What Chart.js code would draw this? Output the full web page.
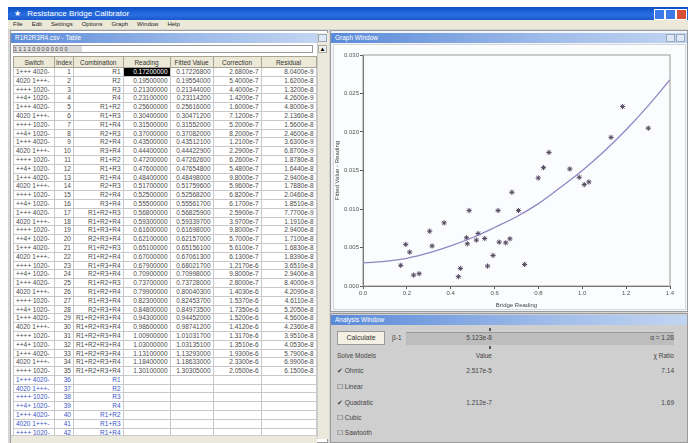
<!DOCTYPE html>
<html>
<head>
<meta charset="utf-8">
<script src="https://cdn.jsdelivr.net/npm/chart.js@4"></script>
<style>
  body { margin: 0; width: 688px; height: 443px; overflow: hidden; background: #fff; font-family: "Liberation Sans", Arial, sans-serif; }
  .abs { position: absolute; }
  .title { background: linear-gradient(#0b4fc4, #2a6fe2 60%, #1a58cc); color: #fff; font-size: 8px; line-height: 13px; }
  .child-title { background: linear-gradient(to right, #5a8ad8, #9ebbe9 60%, #c2d5f2); color: #fff; font-size: 6.5px; line-height: 10px; padding-left: 4px; box-sizing: border-box; }
  .menu span { margin-right: 9px; }
  table.grid { border-collapse: collapse; table-layout: fixed; font-size: 6.5px; color: #4a4a4a; }
  table.grid td { border: 1px solid #c8c8c8; height: 7.8px; padding: 0 2px; white-space: nowrap; overflow: hidden; text-align: right; line-height: 7.8px; }
  table.grid th { background: #ece9d8; border: 1px solid #a8a494; font-weight: normal; font-size: 6.5px; height: 8px; color: #333; }
  table.grid tr.blue td { color: #3a55c8; }
  .lbl { font-size: 6.5px; color: #444; }
</style>
</head>
<body>
<!-- main frame -->
<div class="abs" style="left:8px;top:7px;width:680px;height:436px;background:#d6d6d6;"></div>
<div class="abs title" style="left:8px;top:7px;width:680px;height:13px;">
  <span style="margin-left:6px;">&#9733;</span>
  <span style="margin-left:4px;">Resistance Bridge Calibrator</span>
</div>
<div class="abs" style="left:654px;top:9px;width:9px;height:9px;background:#3b7ae8;border:1px solid #fff;"></div>
<div class="abs" style="left:665px;top:9px;width:9px;height:9px;background:#3b7ae8;border:1px solid #fff;"></div>
<div class="abs" style="left:676px;top:9px;width:9px;height:9px;background:#d9503a;border:1px solid #fff;"></div>
<div class="abs menu" style="left:8px;top:20px;width:680px;height:9px;background:#ece9d8;font-size:6px;line-height:9px;padding-left:5px;box-sizing:border-box;color:#222;">
  <span>File</span><span>Edit</span><span>Settings</span><span>Options</span><span>Graph</span><span>Window</span><span>Help</span>
</div>

<!-- table window -->
<div class="abs" style="left:10px;top:30px;width:318px;height:413px;background:#fff;border:1px solid #9a9a9a;box-sizing:border-box;"></div>
<div class="abs child-title" style="left:11px;top:33px;width:306px;height:10px;">R1R2R3R4.csv - Table</div>
<div class="abs" style="left:317px;top:33px;width:11px;height:406px;background:#ebe8dc;border-left:1px solid #ccc;"></div>
<div class="abs" style="left:318px;top:34px;width:9px;height:8px;background:#dfe8f7;border:1px solid #9ab;box-sizing:border-box;"></div>
<div class="abs" style="left:318px;top:45px;width:9px;height:8px;background:#f4f2ea;border:1px solid #aaa;box-sizing:border-box;font-size:6px;line-height:6px;text-align:center;">&#9650;</div>
<div class="abs" style="left:13px;top:45px;width:300px;height:8px;background:#fff;border:1px solid #999;box-sizing:border-box;"></div>
<div class="abs lbl" style="left:14px;top:46px;width:68px;height:6px;background:#dcdcdc;font-size:5.5px;line-height:6px;">1 1 1 1 0 0 0 0 0 0 0 0</div>
<div class="abs" style="left:13px;top:56px;">
  <table class="grid" id="tbl">
    <colgroup><col style="width:41px"><col style="width:18px"><col style="width:48px"><col style="width:47px"><col style="width:43px"><col style="width:48px"><col style="width:55px"></colgroup>
    <thead><tr><th>Switch</th><th>Index</th><th>Combination</th><th>Reading</th><th>Fitted Value</th><th>Correction</th><th>Residual</th></tr></thead>
    <tbody></tbody>
  </table>
</div>
<div class="abs" style="left:11px;top:435px;width:306px;height:8px;background:#ebe8dc;border-top:1px solid #ccc;"></div>

<!-- graph window -->
<div class="abs" style="left:330px;top:30px;width:358px;height:282px;background:#f3f6f9;border:1px solid #9a9a9a;box-sizing:border-box;"></div>
<div class="abs child-title" style="left:331px;top:33px;width:356px;height:10px;">Graph Window</div>
<div class="abs" style="left:666px;top:34px;width:9px;height:8px;background:#dfe8f7;border:1px solid #9ab;box-sizing:border-box;"></div>
<div class="abs" style="left:676px;top:34px;width:9px;height:8px;background:#dfe8f7;border:1px solid #9ab;box-sizing:border-box;"></div>
<div class="abs" style="left:333px;top:44px;width:353px;height:266px;background:#fbfcfd;border:1px solid #d4d8dc;box-sizing:border-box;">
  <canvas id="graph"></canvas>
</div>

<!-- analysis window -->
<div class="abs" style="left:330px;top:313px;width:358px;height:130px;background:#cfcfcf;border:1px solid #9a9a9a;box-sizing:border-box;"></div>
<div class="abs child-title" style="left:331px;top:315px;width:356px;height:10px;">Analysis Window</div>
<div class="abs" style="left:337px;top:331px;width:48px;height:14px;background:#f4f1e4;border:1px solid #999;box-sizing:border-box;font-size:7px;line-height:12px;text-align:center;color:#333;">Calculate</div>
<div class="abs lbl" style="left:392px;top:334px;">&beta;-1</div>
<div class="abs" style="left:406px;top:332px;width:268px;height:12px;background:#bdbdbd;border-top:1px solid #999;"></div>
<div class="abs lbl" style="left:450px;top:334px;width:42px;text-align:right;">5.123e-8</div>
<div class="abs lbl" style="left:630px;top:334px;width:44px;text-align:right;">&alpha; = 1.28</div>
<div class="abs" style="left:489px;top:328px;width:2px;height:3px;background:#555;"></div>
<div class="abs" style="left:489px;top:346px;width:2px;height:3px;background:#555;"></div>
<div class="abs lbl" style="left:337px;top:352px;">Solve Models</div>
<div class="abs lbl" style="left:440px;top:352px;width:52px;text-align:right;">Value</div>
<div class="abs lbl" style="left:630px;top:352px;width:44px;text-align:right;">&chi; Ratio</div>
<div class="abs lbl" style="left:337px;top:367px;">&#10004; Ohmic</div>
<div class="abs lbl" style="left:440px;top:367px;width:52px;text-align:right;">2.517e-5</div>
<div class="abs lbl" style="left:630px;top:367px;width:44px;text-align:right;">7.14</div>
<div class="abs lbl" style="left:337px;top:383px;">&#9744; Linear</div>
<div class="abs lbl" style="left:337px;top:399px;">&#10004; Quadratic</div>
<div class="abs lbl" style="left:440px;top:399px;width:52px;text-align:right;">1.212e-7</div>
<div class="abs lbl" style="left:630px;top:399px;width:44px;text-align:right;">1.69</div>
<div class="abs lbl" style="left:337px;top:414px;">&#9744; Cubic</div>
<div class="abs lbl" style="left:337px;top:429px;">&#9744; Sawtooth</div>

<script>
// scatter points
const ptX = [0.172, 0.195, 0.213, 0.231, 0.256, 0.304, 0.315, 0.370, 0.435, 0.444,
             0.472, 0.476, 0.484, 0.517, 0.525, 0.555, 0.568, 0.593, 0.616, 0.621,
             0.651, 0.670, 0.679, 0.709, 0.737, 0.799, 0.823, 0.848, 0.943, 0.986,
             1.009, 1.030, 1.131, 1.184, 1.301];
const ptY = [0.00268, 0.0054, 0.0044, 0.00142, 0.0016, 0.00712, 0.0052, 0.0082, 0.00121, 0.00229,
             0.00626, 0.00548, 0.0098, 0.00596, 0.00682, 0.00617, 0.00259, 0.00397, 0.0098, 0.0057,
             0.00561, 0.00613, 0.01217, 0.0098, 0.0028, 0.01403, 0.01537, 0.01735, 0.0152, 0.01412,
             0.01317, 0.01351, 0.0193, 0.0233, 0.0205];

// quadratic fit curve
const fitX = [0, 0.1, 0.2, 0.3, 0.4, 0.5, 0.6, 0.7, 0.8, 0.9, 1.0, 1.1, 1.2, 1.3, 1.4];
const fitY = [0.0030, 0.0032, 0.0036, 0.0043, 0.0052, 0.0063, 0.0076, 0.0090, 0.0107, 0.0128,
              0.0150, 0.0175, 0.0203, 0.0234, 0.0268];

const xTicks = [0, 0.2, 0.4, 0.6, 0.8, 1.0, 1.2, 1.4];
const yTicks = [0, 0.005, 0.010, 0.015, 0.020, 0.025, 0.030];

// table rows
const combos = ["R1", "R2", "R3", "R4", "R1+R2", "R1+R3", "R1+R4", "R2+R3", "R2+R4", "R3+R4",
                "R1+R2", "R1+R3", "R1+R4", "R2+R3", "R2+R4", "R3+R4", "R1+R2+R3", "R1+R2+R4",
                "R1+R3+R4", "R2+R3+R4", "R1+R2+R3", "R1+R2+R4", "R1+R3+R4", "R2+R3+R4", "R1+R2+R3",
                "R1+R2+R4", "R1+R3+R4", "R2+R3+R4", "R1+R2+R3+R4", "R1+R2+R3+R4", "R1+R2+R3+R4",
                "R1+R2+R3+R4", "R1+R2+R3+R4", "R1+R2+R3+R4", "R1+R2+R3+R4"];
const blueCombos = ["R1", "R2", "R3", "R4", "R1+R2", "R1+R3", "R1+R4"];
const switches = ["1+++ 4020-", "4020 1+++-", "++++ 1020-", "++4+ 1020-"];

const buildTable = () => {
  const body = document.querySelector("#tbl tbody");
  let html = "";
  combos.forEach((c, i) => {
    const sel = i === 0 ? ' style="background:#000;color:#fff"' : "";
    html += `<tr><td style="text-align:left">${switches[i % 4]}</td><td>${i + 1}</td><td>${c}</td>` +
      `<td${sel}>${ptX[i].toFixed(8)}</td><td>${(ptX[i] + ptY[i] / 10).toFixed(8)}</td>` +
      `<td>${(ptY[i] * 1e-4).toExponential(4)}</td><td>${(ptY[i] * 3e-6).toExponential(4)}</td></tr>`;
  });
  blueCombos.forEach((c, i) => {
    html += `<tr class="blue"><td style="text-align:left">${switches[i % 4]}</td><td>${combos.length + i + 1}</td>` +
      `<td>${c}</td><td></td><td></td><td></td><td></td></tr>`;
  });
  body.innerHTML = html;
};

// thin grey frame round the plot
const frame = {
  id: "frame",
  afterDraw(chart) {
    const { ctx, chartArea: a } = chart;
    ctx.save();
    ctx.strokeStyle = "#9a9a9a";
    ctx.lineWidth = 1;
    ctx.strokeRect(a.left, a.top, a.right - a.left, a.bottom - a.top);
    ctx.restore();
  },
};

const tickFont = { family: "Liberation Sans", size: 6 };

document.addEventListener("DOMContentLoaded", () => {
  buildTable();
  const canvas = document.getElementById("graph");
  canvas.parentNode.style.position = "absolute";
  new Chart(canvas, {
    type: "scatter",
    data: {
      datasets: [
        {
          label: "Quadratic",
          data: fitX.map((x, i) => ({ x, y: fitY[i] })),
          showLine: true,
          borderColor: "#8f86c4",
          borderWidth: 1.3,
          pointRadius: 0,
          tension: 0.4,
        },
        {
          label: "Residual",
          data: ptX.map((x, i) => ({ x, y: ptY[i] })),
          pointStyle: "star",
          pointRadius: 2.6,
          borderColor: "#54475e",
          backgroundColor: "#54475e",
          borderWidth: 1,
        },
      ],
    },
    options: {
      responsive: true,
      maintainAspectRatio: false,
      animation: false,
      layout: { padding: { top: 10, right: 15, left: 0, bottom: 0 } },
      plugins: { legend: { display: false }, tooltip: { enabled: false } },
      scales: {
        x: {
          type: "linear",
          min: 0,
          max: 1.4,
          afterBuildTicks: (s) => { s.ticks = xTicks.map((v) => ({ value: v })); },
          ticks: { font: tickFont, color: "#555", padding: 1, maxRotation: 0, callback: (v) => v.toFixed(1) },
          grid: { drawOnChartArea: false, tickLength: 3, color: "#555" },
          border: { color: "#555" },
          title: { display: true, text: "Bridge Reading", font: tickFont, color: "#444", padding: 0 },
          afterFit: (s) => { s.height = 23; },
        },
        y: {
          min: 0,
          max: 0.03,
          afterBuildTicks: (s) => { s.ticks = yTicks.map((v) => ({ value: v })); },
          ticks: { font: tickFont, color: "#555", padding: 1, callback: (v) => v.toFixed(3) },
          grid: { drawOnChartArea: false, tickLength: 3, color: "#555" },
          border: { color: "#555" },
          title: { display: true, text: "Fitted Value - Reading", font: tickFont, color: "#444", padding: 0 },
          afterFit: (s) => { s.width = 29; },
        },
      },
    },
    plugins: [frame],
  });
});
</script>
</body>
</html>
